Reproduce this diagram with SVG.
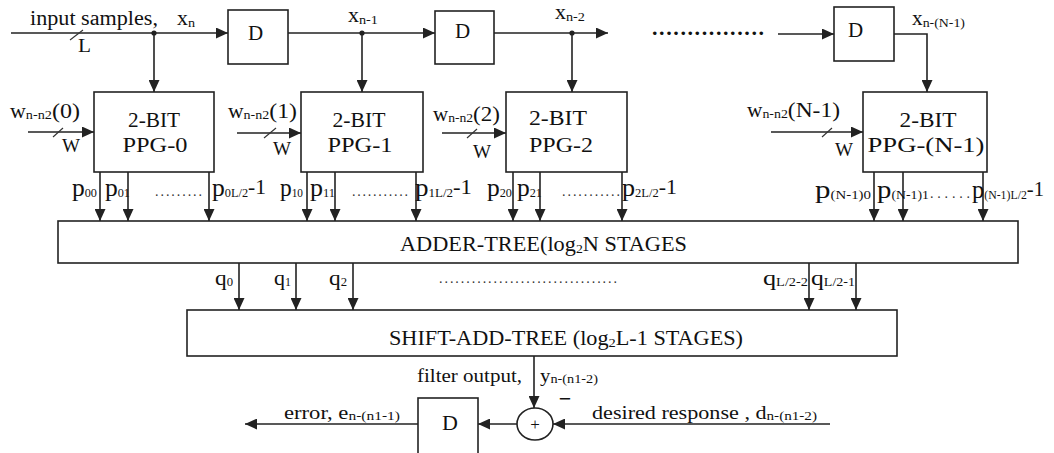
<svg xmlns="http://www.w3.org/2000/svg" width="1054" height="453" viewBox="0 0 1054 453">
<style>
text{font-family:"Liberation Serif","Times New Roman",serif;fill:#111;}
.box{fill:#fff;stroke:#222;stroke-width:1.6;}
.ln{stroke:#222;stroke-width:1.6;fill:none;}
.ar{stroke:#222;stroke-width:1.6;fill:none;marker-end:url(#ah);}
.sl{stroke:#333;stroke-width:1.1;}
.lb{font-size:20px;}
.sb{font-size:13px;}
.ps{font-size:12px;}
.big{font-size:22px;}
.pp{font-size:25px;}
.dt{font-size:14px;fill:#333;}
</style>
<defs>
<marker id="ah" markerUnits="userSpaceOnUse" markerWidth="12" markerHeight="11" refX="12" refY="5.5" orient="auto">
<path d="M0,0 L12,5.5 L0,11 z" fill="#222"/>
</marker>
</defs>
<rect width="1054" height="453" fill="#fff"/>

<g id="connectors">
<line class="ar" x1="11" y1="33" x2="228" y2="33"/>
<line class="sl" x1="70" y1="40" x2="83" y2="30"/>
<circle cx="154" cy="33" r="2.6" fill="#222"/>
<line class="ar" x1="154" y1="33" x2="154" y2="92"/>
<line class="ar" x1="288" y1="33" x2="435" y2="33"/>
<circle cx="362" cy="33" r="2.6" fill="#222"/>
<line class="ar" x1="362" y1="33" x2="362" y2="92"/>
<line class="ar" x1="494" y1="33" x2="608" y2="33"/>
<circle cx="572" cy="33" r="2.6" fill="#222"/>
<line class="ar" x1="572" y1="33" x2="572" y2="92"/>
<line class="ar" x1="778" y1="34" x2="834" y2="34"/>
<polyline class="ar" points="894,34 927,34 927,92"/>

<line class="ar" x1="28" y1="132" x2="94" y2="132"/>
<line class="sl" x1="53" y1="137" x2="63" y2="128"/>
<line class="ar" x1="237" y1="133" x2="301" y2="133"/>
<line class="sl" x1="264" y1="138" x2="276" y2="128"/>
<line class="ar" x1="442" y1="133" x2="506" y2="133"/>
<line class="sl" x1="467" y1="138" x2="477" y2="129"/>
<line class="ar" x1="771" y1="132" x2="863" y2="132"/>
<line class="sl" x1="822" y1="137" x2="832" y2="128"/>

<line class="ar" x1="100" y1="172" x2="100" y2="221"/>
<line class="ar" x1="128" y1="172" x2="128" y2="221"/>
<line class="ar" x1="209" y1="172" x2="209" y2="221"/>
<line class="ar" x1="307" y1="172" x2="307" y2="221"/>
<line class="ar" x1="335" y1="172" x2="335" y2="221"/>
<line class="ar" x1="416" y1="172" x2="416" y2="221"/>
<line class="ar" x1="513" y1="172" x2="513" y2="221"/>
<line class="ar" x1="540" y1="172" x2="540" y2="221"/>
<line class="ar" x1="622" y1="172" x2="622" y2="221"/>
<line class="ar" x1="874" y1="172" x2="874" y2="221"/>
<line class="ar" x1="903" y1="172" x2="903" y2="221"/>
<line class="ar" x1="983" y1="172" x2="983" y2="221"/>

<line class="ar" x1="239" y1="263" x2="239" y2="310"/>
<line class="ar" x1="296" y1="263" x2="296" y2="310"/>
<line class="ar" x1="353" y1="263" x2="353" y2="310"/>
<line class="ar" x1="809" y1="263" x2="809" y2="310"/>
<line class="ar" x1="856" y1="263" x2="856" y2="310"/>

<line class="ar" x1="534" y1="356" x2="534" y2="408"/>
<line class="ar" x1="830" y1="424" x2="553" y2="424"/>
<line class="ar" x1="517" y1="424" x2="478" y2="424"/>
<line class="ar" x1="418" y1="424" x2="245" y2="424"/>
</g>

<g id="labels">
<text class="lb" x="30" y="25" textLength="128" lengthAdjust="spacingAndGlyphs">input samples,</text>
<text class="lb" x="177" y="25" textLength="18" lengthAdjust="spacingAndGlyphs">x<tspan class="sb" dy="2">n</tspan></text>
<text x="78" y="52" font-size="18" textLength="13" lengthAdjust="spacingAndGlyphs">L</text>
<text class="lb" x="348" y="22" textLength="30" lengthAdjust="spacingAndGlyphs">x<tspan class="sb" dy="2">n-1</tspan></text>
<text class="lb" x="555" y="19" textLength="30" lengthAdjust="spacingAndGlyphs">x<tspan class="sb" dy="2">n-2</tspan></text>
<text class="lb" x="912" y="25" textLength="53" lengthAdjust="spacingAndGlyphs">x<tspan class="sb" dy="2">n-(N-1)</tspan></text>
<text x="652" y="35" font-size="22" font-weight="bold" fill="#333" textLength="112" lengthAdjust="spacing">................</text>

<text class="lb" x="10" y="118" textLength="70" lengthAdjust="spacingAndGlyphs">w<tspan class="sb" dy="1">n-n2</tspan><tspan font-size="22" dy="-1">(0)</tspan></text>
<text x="62" y="152" font-size="19" textLength="18" lengthAdjust="spacingAndGlyphs">W</text>
<text class="lb" x="228" y="118" textLength="69" lengthAdjust="spacingAndGlyphs">w<tspan class="sb" dy="1">n-n2</tspan><tspan font-size="22" dy="-1">(1)</tspan></text>
<text x="273" y="155" font-size="19" textLength="18" lengthAdjust="spacingAndGlyphs">W</text>
<text class="lb" x="433" y="121" textLength="67" lengthAdjust="spacingAndGlyphs">w<tspan class="sb" dy="1">n-n2</tspan><tspan font-size="22" dy="-1">(2)</tspan></text>
<text x="473" y="158" font-size="19" textLength="18" lengthAdjust="spacingAndGlyphs">W</text>
<text class="lb" x="747" y="117" textLength="93" lengthAdjust="spacingAndGlyphs">w<tspan class="sb" dy="1">n-n2</tspan><tspan font-size="22" dy="-1">(N-1)</tspan></text>
<text x="835" y="156" font-size="19" textLength="18" lengthAdjust="spacingAndGlyphs">W</text>

<text class="pp" x="72" y="196" textLength="25" lengthAdjust="spacingAndGlyphs">p<tspan class="ps" dy="1">00</tspan></text>
<text class="pp" x="105" y="196" textLength="25" lengthAdjust="spacingAndGlyphs">p<tspan class="ps" dy="1">01</tspan></text>
<text class="dt" x="155" y="196" textLength="47" lengthAdjust="spacing">.........</text>
<text class="pp" x="212" y="196" textLength="54" lengthAdjust="spacingAndGlyphs">p<tspan class="ps" dy="1">0L/2</tspan><tspan font-size="21" dy="-3">-1</tspan></text>
<text class="pp" x="280" y="196" textLength="23" lengthAdjust="spacingAndGlyphs">p<tspan class="ps" dy="1">10</tspan></text>
<text class="pp" x="310" y="196" textLength="25" lengthAdjust="spacingAndGlyphs">p<tspan class="ps" dy="1">11</tspan></text>
<text class="dt" x="352" y="196" textLength="56" lengthAdjust="spacing">...........</text>
<text class="pp" x="415" y="196" textLength="57" lengthAdjust="spacingAndGlyphs">p<tspan class="ps" dy="1">1L/2</tspan><tspan font-size="21" dy="-3">-1</tspan></text>
<text class="pp" x="487" y="196" textLength="25" lengthAdjust="spacingAndGlyphs">p<tspan class="ps" dy="1">20</tspan></text>
<text class="pp" x="517" y="196" textLength="25" lengthAdjust="spacingAndGlyphs">p<tspan class="ps" dy="1">21</tspan></text>
<text class="dt" x="562" y="196" textLength="58" lengthAdjust="spacing">...........</text>
<text class="pp" x="622" y="196" textLength="55" lengthAdjust="spacingAndGlyphs">p<tspan class="ps" dy="1">2L/2</tspan><tspan font-size="21" dy="-3">-1</tspan></text>
<text class="pp" x="815" y="198" textLength="56" lengthAdjust="spacingAndGlyphs">p<tspan class="ps" dy="1">(N-1)0</tspan></text>
<text class="pp" x="877" y="198" textLength="52" lengthAdjust="spacingAndGlyphs">p<tspan class="ps" dy="1">(N-1)1</tspan></text>
<text class="dt" x="930" y="198" textLength="40" lengthAdjust="spacing">......</text>
<text class="pp" x="972" y="198" textLength="72" lengthAdjust="spacingAndGlyphs">p<tspan class="ps" dy="1">(N-1)L/2</tspan><tspan font-size="21" dy="-3">-1</tspan></text>

<text class="big" x="215" y="285" textLength="18" lengthAdjust="spacingAndGlyphs">q<tspan class="ps" dy="1">0</tspan></text>
<text class="big" x="274" y="285" textLength="17" lengthAdjust="spacingAndGlyphs">q<tspan class="ps" dy="1">1</tspan></text>
<text class="big" x="329" y="285" textLength="18" lengthAdjust="spacingAndGlyphs">q<tspan class="ps" dy="1">2</tspan></text>
<text class="dt" x="439" y="283" textLength="178" lengthAdjust="spacing">.................................</text>
<text class="big" x="763" y="285" textLength="45" lengthAdjust="spacingAndGlyphs">q<tspan class="ps" dy="1">L/2-2</tspan></text>
<text class="big" x="811" y="285" textLength="44" lengthAdjust="spacingAndGlyphs">q<tspan class="ps" dy="1">L/2-1</tspan></text>

<text x="417" y="382" font-size="19" textLength="105" lengthAdjust="spacingAndGlyphs">filter output,</text>
<text x="540" y="382" font-size="19" textLength="58" lengthAdjust="spacingAndGlyphs">y<tspan class="sb" dy="1">n-(n1-2)</tspan></text>
<text x="565" y="406" font-size="22" font-weight="bold" text-anchor="middle">−</text>
<text x="284" y="419" font-size="19" textLength="116" lengthAdjust="spacingAndGlyphs">error, e<tspan class="sb" dy="1">n-(n1-1)</tspan></text>
<text x="592" y="419" font-size="19" textLength="225" lengthAdjust="spacingAndGlyphs">desired response , d<tspan class="sb" dy="1">n-(n1-2)</tspan></text>
</g>

<g id="D1"><rect class="box" x="228" y="10" width="60" height="54"/><text x="248" y="40" font-size="21">D</text></g>
<g id="D2"><rect class="box" x="435" y="11" width="59" height="53"/><text x="455" y="38" font-size="21">D</text></g>
<g id="D3"><rect class="box" x="834" y="7" width="60" height="54"/><text x="848" y="37" font-size="21">D</text></g>

<g id="PPG0"><rect class="box" x="94" y="92" width="120" height="80"/>
<text class="big" x="154" y="127" text-anchor="middle" textLength="52" lengthAdjust="spacingAndGlyphs">2-BIT</text>
<text class="big" x="155" y="152" text-anchor="middle" textLength="65" lengthAdjust="spacingAndGlyphs">PPG-0</text></g>
<g id="PPG1"><rect class="box" x="301" y="92" width="122" height="80"/>
<text class="big" x="359" y="127" text-anchor="middle" textLength="53" lengthAdjust="spacingAndGlyphs">2-BIT</text>
<text class="big" x="360" y="152" text-anchor="middle" textLength="65" lengthAdjust="spacingAndGlyphs">PPG-1</text></g>
<g id="PPG2"><rect class="box" x="506" y="92" width="121" height="80"/>
<text class="big" x="558" y="125" text-anchor="middle" textLength="58" lengthAdjust="spacingAndGlyphs">2-BIT</text>
<text class="big" x="561" y="152" text-anchor="middle" textLength="64" lengthAdjust="spacingAndGlyphs">PPG-2</text></g>
<g id="PPGN1"><rect class="box" x="863" y="92" width="124" height="80"/>
<text class="big" x="928" y="127" text-anchor="middle" textLength="57" lengthAdjust="spacingAndGlyphs">2-BIT</text>
<text class="big" x="926" y="152" text-anchor="middle" textLength="117" lengthAdjust="spacingAndGlyphs">PPG-(N-1)</text></g>

<g id="adder"><rect class="box" x="58" y="221" width="960" height="42"/>
<text x="400" y="251" font-size="21" textLength="287" lengthAdjust="spacingAndGlyphs">ADDER-TREE(log<tspan font-size="13" dy="2">2</tspan><tspan dy="-2">N STAGES</tspan></text></g>
<g id="shiftadd"><rect class="box" x="187" y="310" width="710" height="46"/>
<text x="389" y="345" font-size="20" textLength="354" lengthAdjust="spacingAndGlyphs">SHIFT-ADD-TREE (log<tspan font-size="13" dy="2">2</tspan><tspan dy="-2">L-1 STAGES)</tspan></text></g>

<g id="sum"><ellipse cx="535" cy="424" rx="18" ry="16" fill="#fff" stroke="#222" stroke-width="1.6"/>
<text x="535" y="430" font-size="17" fill="#888" text-anchor="middle">+</text></g>
<g id="D4"><rect class="box" x="418" y="398" width="60" height="62"/><text x="442" y="430" font-size="22">D</text></g>
</svg>
